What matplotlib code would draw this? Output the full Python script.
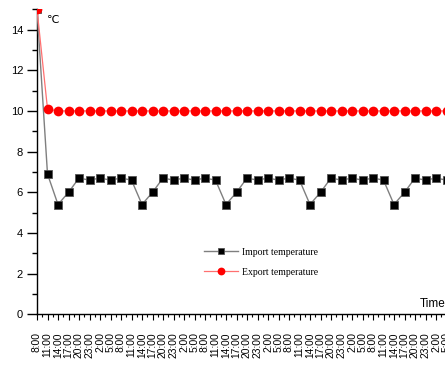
import matplotlib
matplotlib.use("Agg")
import matplotlib.pyplot as plt
from matplotlib.ticker import MultipleLocator, FixedLocator

# Sampling times, every 3 hours starting at 8:00
times = ["8:00", "11:00", "14:00", "17:00", "20:00", "23:00", "2:00", "5:00"] * 5

# Measured temperatures (°C)
import_temp = [15.0, 6.9, 5.4, 6.0, 6.7, 6.6, 6.7, 6.6,
               6.7, 6.6, 5.4, 6.0, 6.7, 6.6, 6.7, 6.6,
               6.7, 6.6, 5.4, 6.0, 6.7, 6.6, 6.7, 6.6,
               6.7, 6.6, 5.4, 6.0, 6.7, 6.6, 6.7, 6.6,
               6.7, 6.6, 5.4, 6.0, 6.7, 6.6, 6.7, 6.6]
export_temp = [15.0, 10.1] + [10.0] * 38

y_ticks = [0, 2, 4, 6, 8, 10, 12, 14]

W, H = 445, 369
fig = plt.figure(figsize=(W / 100, H / 100), dpi=100)

ax_left = 37 / W
ax_bottom = (H - 314.4) / H
ax_height = (314.4 - 9.2) / H
step_px = 10.5
n_visible = 40
ax_width = (n_visible * step_px) / W
ax = fig.add_axes([ax_left, ax_bottom, ax_width, ax_height])

x = list(range(len(times)))
ax.plot(x, import_temp, color="#7f7f7f", lw=1.0, marker="s", ms=6.2,
        mfc="black", mec="#555555", mew=0.6, label="Import temperature",
        clip_on=True, zorder=3)
ax.plot(x, export_temp, color="#ff7070", lw=0.9, marker="o", ms=7,
        mfc="red", mec="red", mew=0, label="Export temperature",
        clip_on=True, zorder=3)

ax.set_xlim(0, n_visible)
ax.set_ylim(0, 15)

ax.spines["top"].set_visible(False)
ax.spines["right"].set_visible(False)
for s in ("left", "bottom"):
    ax.spines[s].set_linewidth(1.0)
    ax.spines[s].set_color("black")

ax.yaxis.set_major_locator(FixedLocator(y_ticks))
ax.yaxis.set_minor_locator(MultipleLocator(1))
ax.set_yticklabels([str(v) for v in y_ticks], family="Liberation Sans",
                   fontsize=8)
ax.tick_params(axis="y", which="major", direction="out", length=7,
               width=1.0, pad=3)
ax.tick_params(axis="y", which="minor", direction="out", length=3.5,
               width=1.0)

ax.set_xticks(x)
ax.set_xticks([i + 0.5 for i in x], minor=True)
ax.set_xticklabels(times, rotation=90, family="Liberation Sans",
                   fontsize=7.4, va="top", ha="center")
ax.tick_params(axis="x", which="major", direction="out", length=4,
               width=0.8, pad=9)
ax.tick_params(axis="x", which="minor", direction="out", length=2.5,
               width=0.8)

fig.text(47 / W, 1 - 20 / H, "℃", family=["Liberation Sans", "DejaVu Sans"],
         fontsize=8, ha="left", va="center")
fig.text(420 / W, 1 - 304 / H, "Time", family="Liberation Sans",
         fontsize=8.5, ha="left", va="center")

leg = ax.legend(loc="upper left", bbox_to_anchor=((200 - 37) / (n_visible * step_px),
                                                  (314.4 - 244) / (314.4 - 9.2)),
                frameon=False, prop={"family": "Liberation Serif", "size": 7},
                handlelength=3.5, handletextpad=0.45, labelspacing=1.1,
                markerscale=0.8, borderaxespad=0)

fig.savefig("out.png", dpi=100)
